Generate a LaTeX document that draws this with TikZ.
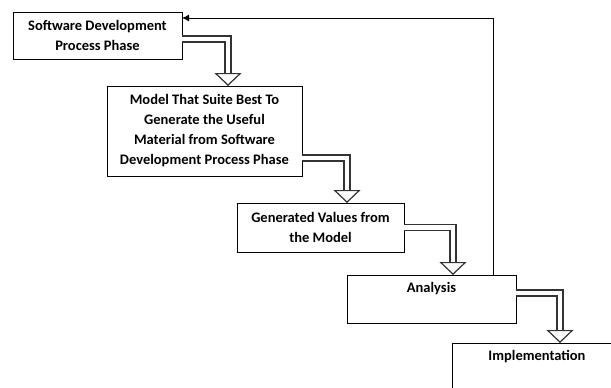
\documentclass[tikz,border=0pt]{standalone}
\usepackage{fontspec}
\setmainfont{Carlito}
\usepackage{tikz}
\usetikzlibrary{arrows.meta,calc}

\begin{document}
\begin{tikzpicture}[
  x=1pt, y=-1pt,
  font=\fontsize{14.5}{20}\selectfont\bfseries,
  phase/.style={draw, line width=1pt, align=center, anchor=north west, inner sep=0pt, outer sep=0pt},
  topphase/.style={phase, text depth=24pt},
  hollow/.style={draw=black!80, line width=1.4pt, double=white, double distance=4.6pt,
    -{Triangle[open, fill=white, length=13pt, width=27pt, line width=1.2pt]}},
  feedback/.style={line width=1pt, -{Latex[length=7pt, width=7pt]}}
]
\clip (0,0) rectangle (611,388);

\node[phase, minimum width=169pt, minimum height=47pt] (sdpp) at (13,12)
  {Software Development\\Process Phase};
\node[phase, minimum width=195pt, minimum height=90pt] (model) at (107,86)
  {Model That Suite Best To\\Generate the Useful\\Material from Software\\Development Process Phase};
\node[phase, minimum width=167pt, minimum height=49pt] (values) at (237,203)
  {Generated Values from\\the Model};
\node[topphase, minimum width=169pt, minimum height=48pt] (analysis) at (347,275)
  {Analysis};
\node[topphase, minimum width=170pt, minimum height=48pt] (impl) at (452,343)
  {Implementation};

% hollow elbow arrows between the phases
\draw[hollow] ([yshift=-3.5pt]sdpp.east) -| ([xshift=23.5pt]model.north);
\draw[hollow] ([yshift=-27pt]model.east) -| ([xshift=26.5pt]values.north);
\draw[hollow] (values.east) -| ([xshift=21.5pt]analysis.north);
\draw[hollow] ([yshift=6pt]analysis.east) -| ([xshift=23pt]impl.north);

% loop back from the analysis
\draw[feedback] ([xshift=-23pt]analysis.north east) |- ([yshift=-6pt]sdpp.north east);
\end{tikzpicture}
\end{document}
